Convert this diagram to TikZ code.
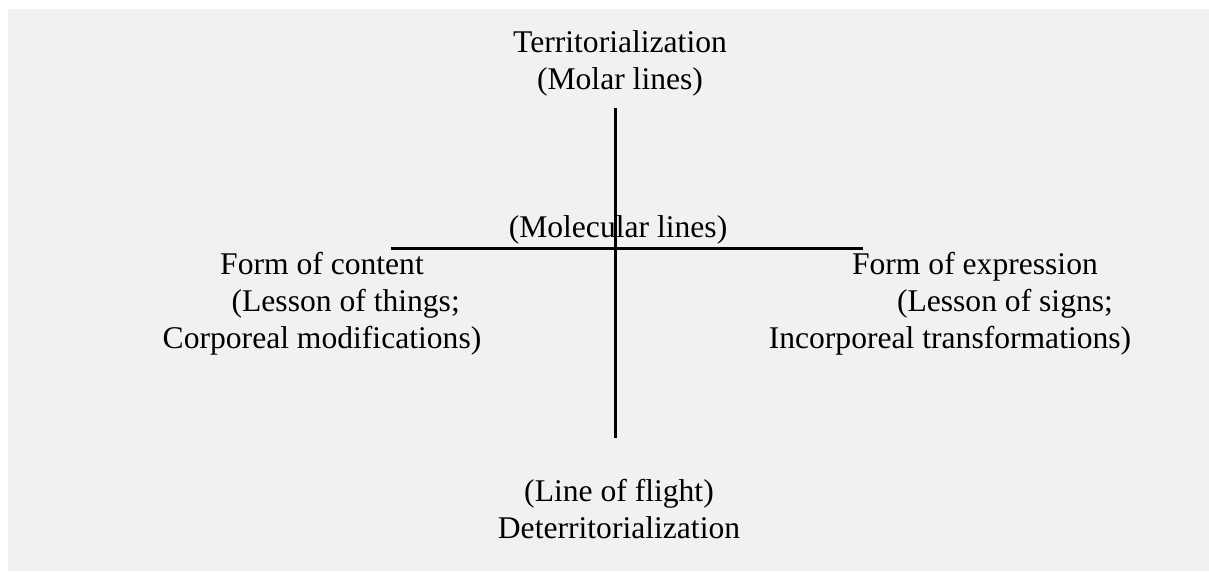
\documentclass[tikz,border=0pt]{standalone}
\usepackage{fontspec}
\setmainfont{Liberation Serif}
\usepackage{tikz}
\usetikzlibrary{positioning}
\definecolor{panelgray}{RGB}{241,241,241}

\begin{document}
\begin{tikzpicture}[x=1pt, y=-1pt,
			axis/.style={line width=3pt, black},
			lbl/.style={font=\fontsize{31.6}{37}\selectfont, anchor=base, inner sep=0pt, align=center}]
			
			\useasboundingbox (0,0) rectangle (1209,571);
			\fill[panelgray] (8,9) rectangle (1209,571);
			
			\coordinate (top) at (615,108);
			\coordinate (bottom) at (615,438);
			\coordinate (left) at (391,248);
			\coordinate (right) at (863,248);
			\draw[axis] (top) -- (bottom);
			\draw[axis] (left) -- (right);
			
			% base anchor sits on the last line
			\node[lbl] (terr) at (620,89) {Territorialization\\(Molar lines)};
			\node[lbl] (molec) at (618,237) {(Molecular lines)};
			\node[lbl] (content) at (322,348) {Form of content\\\hspace*{1.5em}(Lesson of things;\\Corporeal modifications)};
			\node[lbl] (expr) at (950,348) {\hspace*{1.58em}Form of expression\\\hspace*{3.48em}(Lesson of signs;\\Incorporeal transformations)};
			\node[lbl] (deterr) at (619,538) {(Line of flight)\\Deterritorialization};
		\end{tikzpicture}
\end{document}
